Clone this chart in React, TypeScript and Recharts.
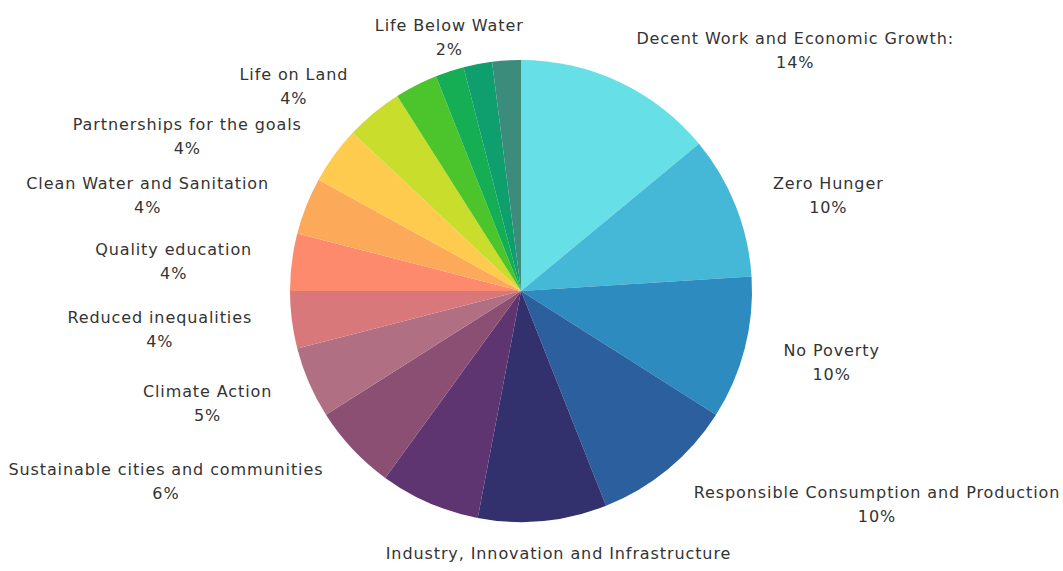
import { PieChart, Pie, Cell } from 'recharts';

const CHART_W = 1063;
const CHART_H = 571;
const FONT_SIZE = 16;
const LETTER_SP = 0.9;

const names = [
  'Decent Work and Economic Growth:',
  'Zero Hunger',
  'No Poverty',
  'Responsible Consumption and Production',
  'Industry, Innovation and Infrastructure',
  'Good Health and Well-being',
  'Sustainable cities and communities',
  'Climate Action',
  'Reduced inequalities',
  'Quality education',
  'Clean Water and Sanitation',
  'Partnerships for the goals',
  'Life on Land',
  'Gender Equality',
  'Life Below Water',
  'Affordable and Clean Energy',
  'Peace, Justice and Strong Institutions',
];

const shares = [14, 10, 10, 10, 9, 7, 6, 5, 4, 4, 4, 4, 4, 3, 2, 2, 2];

// slices whose label is not drawn (crowded)
const hiddenLabels = [5, 13, 15, 16];

const colors = [
  '#66e0e6', '#45b8d8', '#2d8bbf', '#2c5f9e', '#33306e', '#5e3570',
  '#8a4f72', '#b06f82', '#d9787a', '#fd8a6c', '#fda95a', '#fecb4e',
  '#c9dd2c', '#4cc52c', '#15ae55', '#0f9e6e', '#3c8c7c',
];

const data = names.map((name, i) => ({ name, value: shares[i] }));

const RAD = Math.PI / 180;

let ctx: CanvasRenderingContext2D | null = null;
function textWidth(s: string) {
  if (!ctx) {
    ctx = document.createElement('canvas').getContext('2d');
  }
  if (!ctx) return s.length * 9.6;
  ctx.font = `${FONT_SIZE}px "DejaVu Sans"`;
  return ctx.measureText(s).width + LETTER_SP * s.length;
}

function renderLabel(props: any) {
  const { cx, cy, midAngle, outerRadius, index, name, value } = props;
  if (hiddenLabels.includes(index)) return null;
  const r = outerRadius + 40;
  const x = cx + r * Math.cos(-midAngle * RAD);
  const y = cy + r * Math.sin(-midAngle * RAD);
  const nearVertical = Math.abs(Math.cos(midAngle * RAD)) < 0.35;
  let center = x;
  if (nearVertical) center = x + 12;
  else if (x > cx) center = x + textWidth(name) / 2;
  else center = x - textWidth(name) / 2;
  // second line falls off the bottom edge, like the original
  const showPct = y + 20 < CHART_H;
  return (
    <text
      x={center}
      y={y - 2}
      textAnchor="middle"
      fill="#333"
      style={{ fontSize: FONT_SIZE, fontFamily: 'DejaVu Sans, sans-serif', letterSpacing: LETTER_SP }}
    >
      <tspan x={center} dy={0}>{name}</tspan>
      {showPct && <tspan x={center} dy={24}>{value}%</tspan>}
    </text>
  );
}

export default function App() {
  return (
    <div style={{ position: 'absolute', left: 0, top: 0, width: CHART_W, height: CHART_H, background: '#fff' }}>
      <PieChart width={CHART_W} height={CHART_H}>
        <Pie
          data={data}
          dataKey="value"
          nameKey="name"
          cx={516}
          cy={286}
          outerRadius={231}
          startAngle={90}
          endAngle={-270}
          stroke="none"
          labelLine={false}
          label={renderLabel}
          isAnimationActive={false}
        >
          {data.map((d, i) => (
            <Cell key={d.name} fill={colors[i]} />
          ))}
        </Pie>
      </PieChart>
    </div>
  );
}
